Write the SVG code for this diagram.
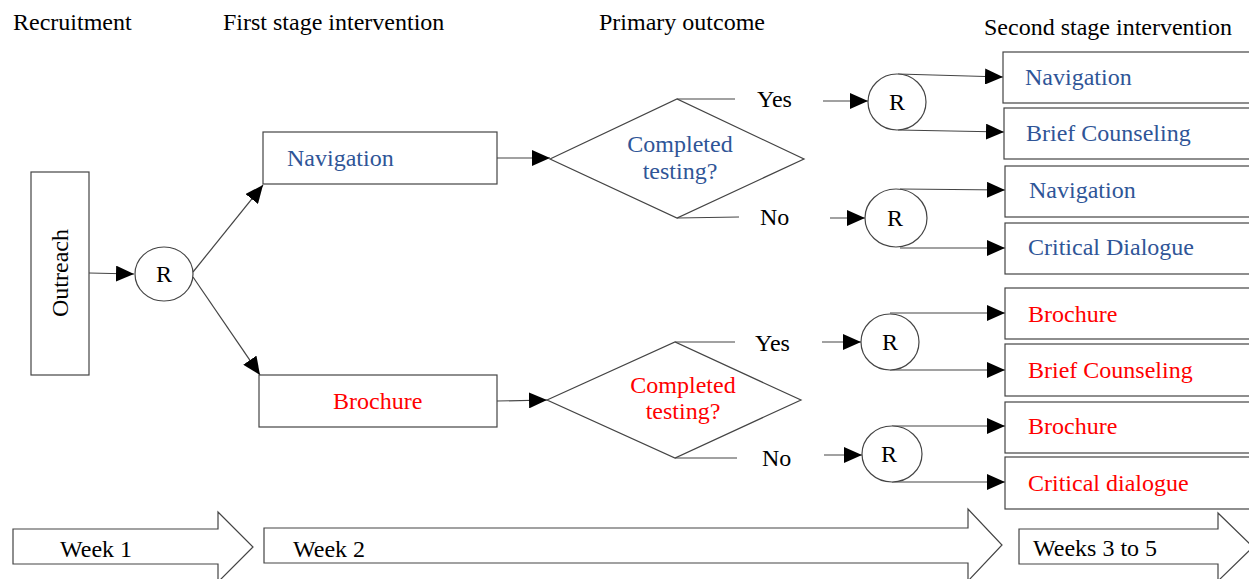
<svg xmlns="http://www.w3.org/2000/svg" width="1249" height="579" viewBox="0 0 1249 579">
<style>
text{font-family:"Liberation Serif","Times New Roman",serif;font-size:24px;fill:#000}
.blue{fill:#2F5597}
.red{fill:#FF0000}
.box{fill:#fff;stroke:#444;stroke-width:1.2}
.ln{fill:none;stroke:#444;stroke-width:1.2}
.arr{fill:none;stroke:#444;stroke-width:1.2;marker-end:url(#ah)}
.mid{text-anchor:middle}
</style>
<defs>
<marker id="ah" markerUnits="userSpaceOnUse" markerWidth="20" markerHeight="16" refX="18" refY="8" orient="auto">
<path d="M0,0 L18,8 L0,16 Z" fill="#000"/>
</marker>
</defs>
<rect width="1249" height="579" fill="#fff"/>
<g id="headers">
<text x="13" y="30">Recruitment</text>
<text x="223" y="30">First stage intervention</text>
<text x="599" y="30">Primary outcome</text>
<text x="984" y="35">Second stage intervention</text>
</g>
<g id="connectors">
<line class="arr" x1="89" y1="273" x2="134" y2="274"/>
<line class="arr" x1="193" y1="272" x2="263" y2="185"/>
<line class="arr" x1="193" y1="277" x2="260" y2="375"/>
<line class="arr" x1="497" y1="158" x2="550" y2="158"/>
<line class="arr" x1="497" y1="401" x2="547" y2="400"/>
<line class="ln" x1="677" y1="99" x2="735" y2="99"/>
<line class="ln" x1="677" y1="218" x2="739" y2="217"/>
<line class="ln" x1="675" y1="342" x2="735" y2="342"/>
<line class="ln" x1="675" y1="458" x2="737" y2="458"/>
<line class="arr" x1="823" y1="101" x2="868" y2="101"/>
<line class="arr" x1="830" y1="218" x2="865" y2="218"/>
<line class="arr" x1="822" y1="342" x2="861" y2="342"/>
<line class="arr" x1="824" y1="455" x2="862" y2="455"/>
<line class="arr" x1="898" y1="74" x2="1003" y2="77"/>
<line class="arr" x1="898" y1="130" x2="1004" y2="132"/>
<line class="arr" x1="900" y1="189" x2="1005" y2="190"/>
<line class="arr" x1="900" y1="248" x2="1005" y2="248"/>
<line class="arr" x1="890" y1="313" x2="1005" y2="313"/>
<line class="arr" x1="890" y1="370" x2="1005" y2="370"/>
<line class="arr" x1="892" y1="426" x2="1005" y2="426"/>
<line class="arr" x1="892" y1="482" x2="1005" y2="482"/>
</g>
<g id="outreach">
<rect class="box" x="31" y="172" width="58" height="203"/>
<text class="mid" transform="translate(68,273) rotate(-90)">Outreach</text>
</g>
<g id="r0"><ellipse class="box" cx="164" cy="274" rx="29" ry="27"/><text class="mid" x="164" y="282">R</text></g>
<g id="nav1"><rect class="box" x="263" y="132" width="234" height="52"/><text class="blue" x="287" y="166">Navigation</text></g>
<g id="bro1"><rect class="box" x="259" y="375" width="238" height="52"/><text class="red" x="333" y="409">Brochure</text></g>
<g id="dia1">
<polygon class="box" points="550,159 677,99 804,159 677,218"/>
<text class="blue mid" x="680" y="152">Completed</text>
<text class="blue mid" x="680" y="179">testing?</text>
</g>
<g id="dia2">
<polygon class="box" points="547,400 675,342 801,400 675,458"/>
<text class="red mid" x="683" y="393">Completed</text>
<text class="red mid" x="683" y="419">testing?</text>
</g>
<g id="yes1"><text x="757" y="107">Yes</text></g>
<g id="no1"><text x="760" y="225">No</text></g>
<g id="yes2"><text x="755" y="351">Yes</text></g>
<g id="no2"><text x="762" y="466">No</text></g>
<g id="r1"><ellipse class="box" cx="897" cy="102" rx="29" ry="28"/><text class="mid" x="897" y="110">R</text></g>
<g id="r2"><ellipse class="box" cx="896" cy="218" rx="31" ry="29"/><text class="mid" x="895" y="226">R</text></g>
<g id="r3"><ellipse class="box" cx="890" cy="342" rx="29" ry="28"/><text class="mid" x="890" y="350">R</text></g>
<g id="r4"><ellipse class="box" cx="892" cy="454" rx="30" ry="28"/><text class="mid" x="889" y="462">R</text></g>
<g id="s1"><rect class="box" x="1003" y="52" width="260" height="51"/><text class="blue" x="1025" y="85">Navigation</text></g>
<g id="s2"><rect class="box" x="1004" y="108" width="260" height="51"/><text class="blue" x="1026" y="141">Brief Counseling</text></g>
<g id="s3"><rect class="box" x="1005" y="166" width="260" height="51"/><text class="blue" x="1029" y="198">Navigation</text></g>
<g id="s4"><rect class="box" x="1005" y="223" width="260" height="51"/><text class="blue" x="1028" y="255">Critical Dialogue</text></g>
<g id="s5"><rect class="box" x="1005" y="288" width="260" height="51"/><text class="red" x="1028" y="322">Brochure</text></g>
<g id="s6"><rect class="box" x="1005" y="344" width="260" height="52"/><text class="red" x="1028" y="378">Brief Counseling</text></g>
<g id="s7"><rect class="box" x="1005" y="402" width="260" height="51"/><text class="red" x="1028" y="434">Brochure</text></g>
<g id="s8"><rect class="box" x="1005" y="457" width="260" height="52"/><text class="red" x="1028" y="491">Critical dialogue</text></g>
<g id="week1"><polygon class="box" points="13,529 218,529 218,512 253,547 218,582 218,564 13,564"/><text x="60" y="557">Week 1</text></g>
<g id="week2"><polygon class="box" points="264,528 968,528 968,509 1002,545 968,581 968,563 264,563"/><text x="293" y="557">Week 2</text></g>
<g id="week3"><polygon class="box" points="1019,529 1218,529 1218,513 1253,547 1218,581 1218,564 1019,564"/><text x="1033" y="556">Weeks 3 to 5</text></g>
</svg>
